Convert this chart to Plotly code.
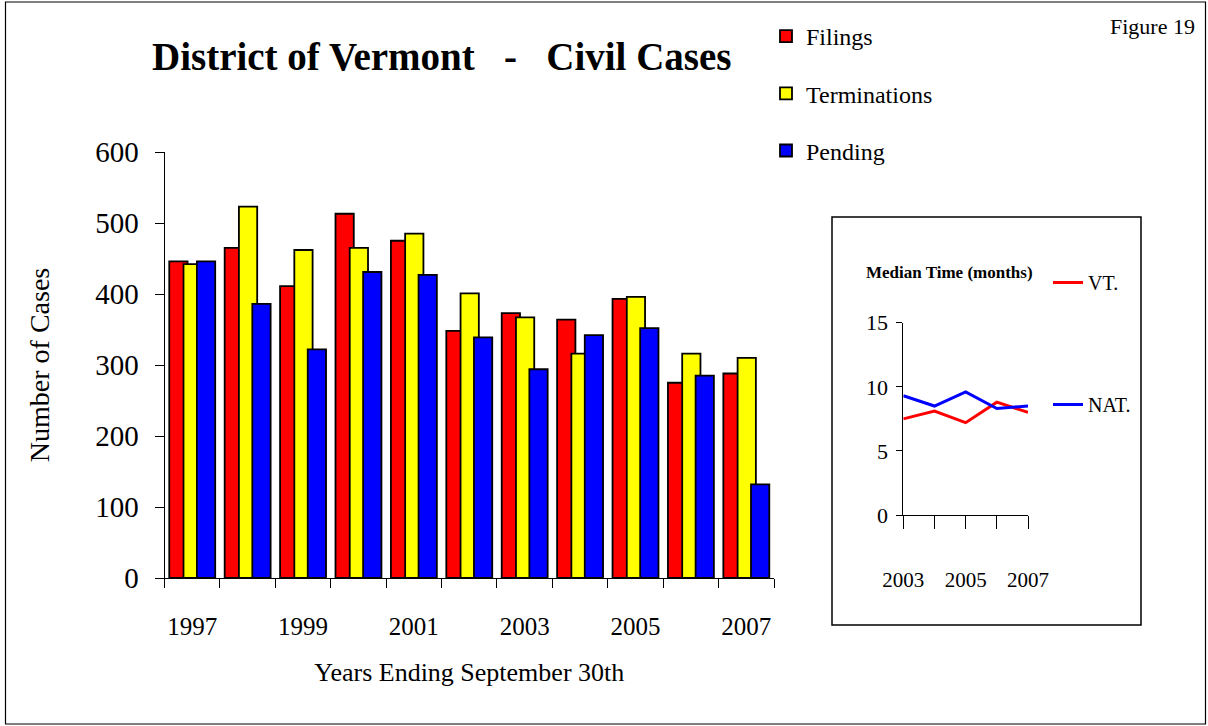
import plotly.graph_objects as go

W, H = 1208, 726

years = list(range(1997, 2008))
filings = [446, 465, 411, 513, 475, 348, 373, 364, 393, 275, 288]
terminations = [442, 523, 462, 465, 485, 401, 367, 316, 396, 316, 310]
pending = [446, 386, 322, 431, 427, 339, 294, 342, 352, 285, 132]

inset_years = [2003, 2004, 2005, 2006, 2007]
vt_median = [7.5, 8.1, 7.2, 8.8, 8.0]
nat_median = [9.3, 8.5, 9.6, 8.3, 8.5]

main_ticks = [1997, 1999, 2001, 2003, 2005, 2007]
main_yticks = [0, 100, 200, 300, 400, 500, 600]
inset_yticks = [0, 5, 10, 15]
inset_ticktext = ["2003", "", "2005", "", "2007"]
year_bounds = [y - 0.5 for y in years] + [years[-1] + 0.5]

FONT = "Liberation Serif"


def px(x):
    return x / W


def py(y):
    return 1 - y / H


fig = go.Figure()

bar_w = 0.33
offsets = [-0.414, -0.157, 0.085]
series = [("Filings", filings, "#FF0000"),
          ("Terminations", terminations, "#FFFF00"),
          ("Pending", pending, "#0000FF")]
for (name, vals, col), off in zip(series, offsets):
    fig.add_trace(go.Bar(
        x=years, y=vals, name=name, width=bar_w, offset=off,
        marker=dict(color=col, line=dict(color="black", width=1.8)),
        legendgroup=name, legend="legend", xaxis="x", yaxis="y",
    ))

fig.add_trace(go.Scatter(x=inset_years, y=vt_median, mode="lines", name="VT.",
                         line=dict(color="#FF0000", width=3), legend="legend2",
                         legendgroup="vt", xaxis="x2", yaxis="y2"))
fig.add_trace(go.Scatter(x=inset_years, y=nat_median, mode="lines", name="NAT.",
                         line=dict(color="#0000FF", width=3), legend="legend2",
                         legendgroup="nat", xaxis="x2", yaxis="y2"))

main_xdom = [px(164.5), px(774)]
main_ydom = [py(578), py(152)]
in_xdom = [px(903.3), px(1028)]
in_ydom = [py(515), py(322.7)]

common = dict(showgrid=False, zeroline=False, automargin=False)

fig.update_layout(
    width=W, height=H,
    margin=dict(l=0, r=0, t=0, b=0, autoexpand=False),
    paper_bgcolor="white", plot_bgcolor="white",
    barmode="overlay",
    font=dict(family=FONT, color="black"),
    xaxis=dict(
        domain=main_xdom, range=[1996.5, 2007.5],
        tickmode="array", tickvals=main_ticks, ticktext=[str(t) for t in main_ticks],
        ticks="", showline=True, linecolor="black", linewidth=1,
        tickfont=dict(size=25, family=FONT),
        ticklabelstandoff=26,
        minor=dict(tickmode="array", tickvals=year_bounds,
                   ticks="outside", ticklen=9, tickcolor="black", tickwidth=1,
                   showgrid=False),
        title=dict(text="Years Ending September 30th", font=dict(size=26, family=FONT),
                   standoff=23),
        anchor="y", **common,
    ),
    yaxis=dict(
        domain=main_ydom, range=[0, 600],
        tickmode="array", tickvals=main_yticks,
        ticks="outside", ticklen=9, tickcolor="black", tickwidth=1,
        showline=True, linecolor="black", linewidth=1,
        tickfont=dict(size=29, family=FONT),
        ticklabelstandoff=10,
        title=dict(text="Number of Cases", font=dict(size=28, family=FONT), standoff=37),
        anchor="x", **common,
    ),
    xaxis3=dict(
        domain=main_xdom, range=[1996.5, 2007.5], overlaying="x", anchor="y",
        tickmode="array", tickvals=year_bounds, ticks="inside", ticklen=9,
        tickcolor="black", tickwidth=1, showticklabels=False, showline=False, **common,
    ),
    yaxis3=dict(
        domain=main_ydom, range=[0, 600], overlaying="y", anchor="x",
        tickmode="array", tickvals=main_yticks, ticks="inside", ticklen=9,
        tickcolor="black", tickwidth=1, showticklabels=False, showline=False, **common,
    ),
    xaxis2=dict(
        domain=in_xdom, range=[2003, 2007],
        tickmode="array", tickvals=inset_years, ticktext=inset_ticktext,
        ticks="outside", ticklen=13, tickcolor="black", tickwidth=1,
        showline=True, linecolor="black", linewidth=1,
        tickfont=dict(size=21, family=FONT),
        ticklabelstandoff=33,
        anchor="y2", **common,
    ),
    yaxis2=dict(
        domain=in_ydom, range=[0, 15],
        tickmode="array", tickvals=inset_yticks,
        ticks="outside", ticklen=6, tickcolor="black", tickwidth=1,
        showline=True, linecolor="black", linewidth=1,
        tickfont=dict(size=22, family=FONT),
        ticklabelstandoff=4,
        anchor="x2", **common,
    ),
    xaxis4=dict(
        domain=in_xdom, range=[2003, 2007], overlaying="x2", anchor="y2",
        tickmode="array", tickvals=inset_years, ticks="inside", ticklen=12,
        tickcolor="black", tickwidth=1, showticklabels=False, showline=False, **common,
    ),
    yaxis4=dict(
        domain=in_ydom, range=[0, 15], overlaying="y2", anchor="x2",
        tickmode="array", tickvals=inset_yticks, ticks="inside", ticklen=6,
        tickcolor="black", tickwidth=1, showticklabels=False, showline=False, **common,
    ),
    legend=dict(
        x=px(766), y=py(14), xanchor="left", yanchor="top",
        bgcolor="rgba(0,0,0,0)", borderwidth=0,
        font=dict(size=24, family=FONT),
        traceorder="grouped", tracegroupgap=23,
    ),
    legend2=dict(
        x=px(1048), y=py(263), xanchor="left", yanchor="top",
        bgcolor="rgba(0,0,0,0)", borderwidth=0,
        font=dict(size=20, family=FONT),
        traceorder="grouped", tracegroupgap=93,
    ),
    showlegend=True,
)

fig.add_annotation(x=px(442), y=py(57), xref="paper", yref="paper",
                   text="<b>District of Vermont   -   Civil Cases</b>", showarrow=False,
                   font=dict(size=39, family=FONT), xanchor="center", yanchor="middle")
fig.add_annotation(x=px(1197), y=py(27), xref="paper", yref="paper",
                   text="Figure 19", showarrow=False,
                   font=dict(size=22, family=FONT), xanchor="right", yanchor="middle")
fig.add_annotation(x=px(949), y=py(272), xref="paper", yref="paper",
                   text="<b>Median Time (months)</b>", showarrow=False,
                   font=dict(size=17, family=FONT), xanchor="center", yanchor="middle")

fig.add_shape(type="rect", xref="paper", yref="paper",
              x0=px(832), x1=px(1141), y0=py(625), y1=py(217),
              line=dict(color="black", width=1.5), fillcolor="rgba(0,0,0,0)")
fig.add_shape(type="rect", xref="paper", yref="paper",
              x0=px(5.5), x1=px(1205.5), y0=py(724), y1=py(2),
              line=dict(color="black", width=1.2), fillcolor="rgba(0,0,0,0)")

fig.write_html("out.html", config={"displayModeBar": False},
               post_script="document.body.style.margin='0';document.body.style.padding='0';")
